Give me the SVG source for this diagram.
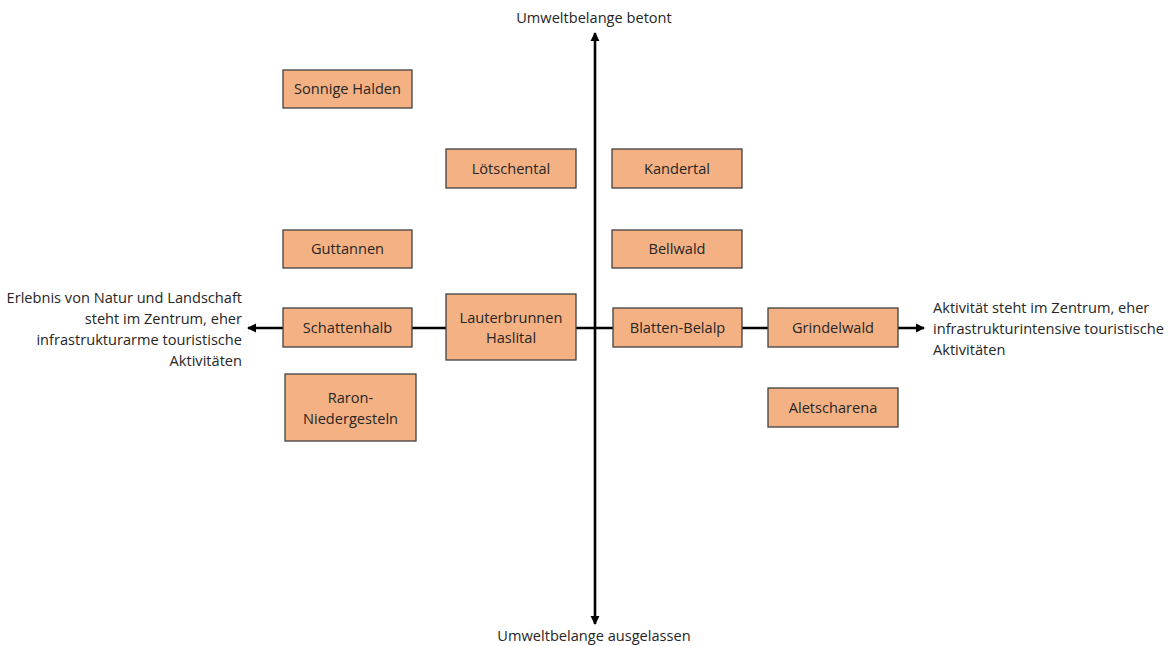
<svg xmlns="http://www.w3.org/2000/svg" width="1169" height="646" viewBox="0 0 1169 646">
<defs>
<style>
.box{fill:#F4B183;stroke:#404040;stroke-width:1.3}
.t{font-family:"Open Sans","Noto Sans",sans-serif;font-size:14.6px;fill:#262626}
.c{text-anchor:middle}
.axis{stroke:#000;stroke-width:2.6;fill:none}
</style>
<marker id="ah" viewBox="0 0 10 10" refX="9" refY="5" markerWidth="3.6" markerHeight="3.6" orient="auto-start-reverse" markerUnits="strokeWidth">
<path d="M0,0 L10,5 L0,10 Z" fill="#000"/>
</marker>
</defs>
<rect width="1169" height="646" fill="#fff"/>
<g id="connectors">
<line class="axis" x1="595" y1="624" x2="595" y2="33" marker-start="url(#ah)" marker-end="url(#ah)"/>
<line class="axis" x1="248" y1="328" x2="924" y2="328" marker-start="url(#ah)" marker-end="url(#ah)"/>
</g>
<g id="label-top"><text class="t c" x="594" y="23">Umweltbelange betont</text></g>
<g id="label-bottom"><text class="t c" x="594" y="641">Umweltbelange ausgelassen</text></g>
<g id="label-left">
<text class="t" text-anchor="end" x="242" y="303">Erlebnis von Natur und Landschaft</text>
<text class="t" text-anchor="end" x="242" y="324">steht im Zentrum, eher</text>
<text class="t" text-anchor="end" x="242" y="345">infrastrukturarme touristische</text>
<text class="t" text-anchor="end" x="242" y="366">Aktivitäten</text>
</g>
<g id="label-right">
<text class="t" x="933" y="313">Aktivität steht im Zentrum, eher</text>
<text class="t" x="933" y="334">infrastrukturintensive touristische</text>
<text class="t" x="933" y="355">Aktivitäten</text>
</g>
<g id="n-sonnige"><rect class="box" x="283" y="70" width="129" height="38"/><text class="t c" x="347.5" y="94">Sonnige Halden</text></g>
<g id="n-loetschental"><rect class="box" x="446" y="149" width="130" height="39"/><text class="t c" x="511" y="173.5">Lötschental</text></g>
<g id="n-kandertal"><rect class="box" x="612" y="149" width="130" height="39"/><text class="t c" x="677" y="173.5">Kandertal</text></g>
<g id="n-guttannen"><rect class="box" x="283" y="230" width="129" height="38"/><text class="t c" x="347.5" y="254">Guttannen</text></g>
<g id="n-bellwald"><rect class="box" x="612" y="230" width="130" height="38"/><text class="t c" x="677" y="254">Bellwald</text></g>
<g id="n-schattenhalb"><rect class="box" x="283" y="308" width="129" height="39"/><text class="t c" x="347.5" y="332.5">Schattenhalb</text></g>
<g id="n-lauterbrunnen"><rect class="box" x="446" y="294" width="130" height="66"/><text class="t c" x="511" y="323">Lauterbrunnen</text><text class="t c" x="511" y="343">Haslital</text></g>
<g id="n-blatten"><rect class="box" x="613" y="308" width="129" height="39"/><text class="t c" x="677.5" y="332.5">Blatten-Belalp</text></g>
<g id="n-grindelwald"><rect class="box" x="768" y="308" width="130" height="39"/><text class="t c" x="833" y="332.5">Grindelwald</text></g>
<g id="n-raron"><rect class="box" x="285" y="374" width="131" height="67"/><text class="t c" x="350.5" y="403">Raron-</text><text class="t c" x="350.5" y="424">Niedergesteln</text></g>
<g id="n-aletscharena"><rect class="box" x="768" y="388" width="130" height="39"/><text class="t c" x="833" y="412.5">Aletscharena</text></g>
</svg>
